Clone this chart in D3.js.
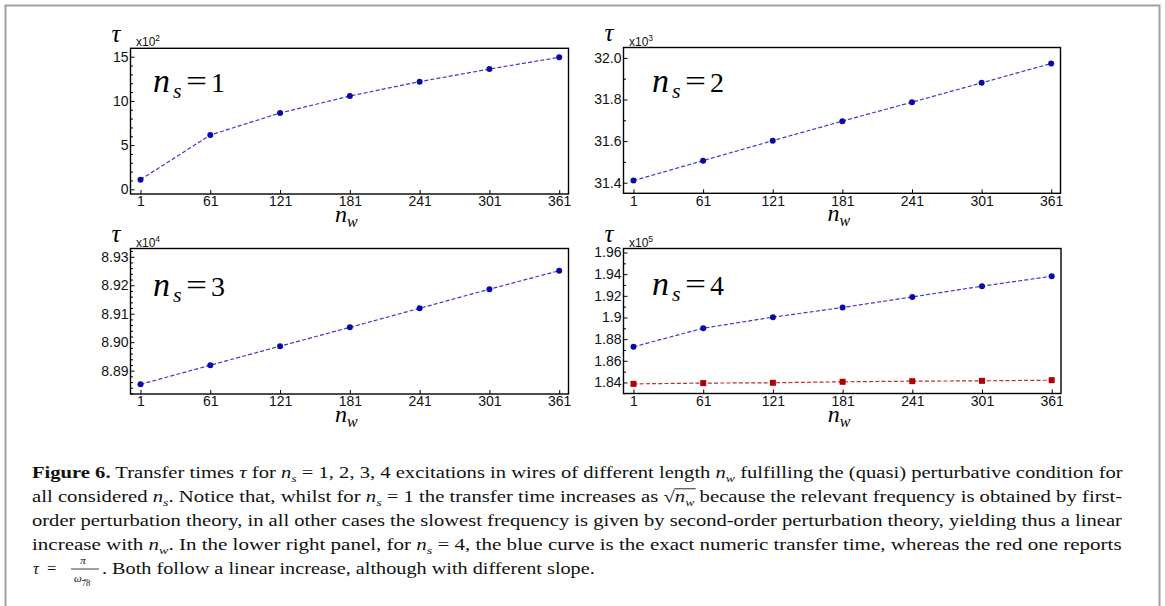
<!DOCTYPE html>
<html><head><meta charset="utf-8">
<script src="https://cdn.jsdelivr.net/npm/d3@7"></script>
<style>body{margin:0;background:#fff;} svg{display:block}</style>
</head><body>
<svg id="c" width="1165" height="606"></svg>
<script>
// ---------------- data ----------------
const nw = [1, 61, 121, 181, 241, 301, 361];
const xTickLabels = ["1", "61", "121", "181", "241", "301", "361"];

// n_s = 1  (×10^2)
const tau1 = [1.09, 6.14, 8.63, 10.55, 12.18, 13.60, 14.93];
const yTicks1 = [0, 5, 10, 15];
const yTickLabels1 = ["0", "5", "10", "15"];

// n_s = 2  (×10^3)
const tau2 = [31.41, 31.506, 31.602, 31.696, 31.787, 31.880, 31.973];
const yTicks2 = [31.4, 31.6, 31.8, 32.0];
const yTickLabels2 = ["31.4", "31.6", "31.8", "32.0"];

// n_s = 3  (×10^4)
const tau3 = [8.8852, 8.8919, 8.8986, 8.9052, 8.9119, 8.9186, 8.9251];
const yTicks3 = [8.89, 8.90, 8.91, 8.92, 8.93];
const yTickLabels3 = ["8.89", "8.90", "8.91", "8.92", "8.93"];

// n_s = 4  (×10^5): exact (blue) and pi/omega (red)
const tau4exact = [1.8729, 1.8901, 1.9003, 1.9092, 1.9190, 1.9289, 1.9381];
const tau4approx = [1.8387, 1.8394, 1.8397, 1.8406, 1.8412, 1.8415, 1.8421];
const yTicks4 = [1.84, 1.86, 1.88, 1.90, 1.92, 1.94, 1.96];
const yTickLabels4 = ["1.84", "1.86", "1.88", "1.9", "1.92", "1.94", "1.96"];

const nsLabels = ["1", "2", "3", "4"];
const exponents = ["2", "3", "4", "5"];

// ---------------- layout ----------------
const SERIF = "'Liberation Serif', 'Times New Roman', Times, serif";
const SANS = "'Liberation Sans', Arial, Helvetica, sans-serif";
const svg = d3.select("#c");
svg.append("rect").attr("x", 5.5).attr("y", 5.5).attr("width", 1154).attr("height", 640)
  .attr("fill", "none").attr("stroke", "#a0a0a0").attr("stroke-width", 2);

const BLUE_LINE = "#3a3ad0", BLUE_PT = "#0808a8", RED_LINE = "#c42a2a", RED_PT = "#b00000";

const panels = [
  { box: {x: 130.5, y: 48.3, w: 438, h: 145.7}, yDomain: [-0.53, 15.95], ticks: yTicks1, tickLabels: yTickLabels1, minor: 1,
    series: [{v: tau1, kind: "circle"}], label: {x: 153, y: 92} },
  { box: {x: 623.5, y: 47.5, w: 437, h: 145.8}, yDomain: [31.349, 32.05], ticks: yTicks2, tickLabels: yTickLabels2, minor: 0.1,
    series: [{v: tau2, kind: "circle"}], label: {x: 652, y: 92} },
  { box: {x: 130.5, y: 248.5, w: 438, h: 145.5}, yDomain: [8.8818, 8.9329], ticks: yTicks3, tickLabels: yTickLabels3, minor: 0.002,
    series: [{v: tau3, kind: "circle"}], label: {x: 153, y: 296} },
  { box: {x: 623.5, y: 248.5, w: 437.5, h: 145}, yDomain: [1.8298, 1.9637], ticks: yTicks4, tickLabels: yTickLabels4, minor: 0.01,
    series: [{v: tau4approx, kind: "square"}, {v: tau4exact, kind: "circle"}], label: {x: 652, y: 295} }
];

panels.forEach((p, pi) => {
  const b = p.box;
  const x = d3.scaleLinear().domain([-7.6, 369]).range([b.x, b.x + b.w]);
  const y = d3.scaleLinear().domain(p.yDomain).range([b.y + b.h, b.y]);
  const g = svg.append("g");

  // x axis (inward ticks)
  const xa = g.append("g").attr("transform", `translate(0,${b.y + b.h})`)
    .call(d3.axisBottom(x).tickValues(nw).tickFormat((d, i) => xTickLabels[i]).tickSizeInner(-4).tickSizeOuter(0).tickPadding(2.5));
  xa.select(".domain").remove();
  xa.selectAll("text").attr("font-family", SANS).attr("font-size", 14).attr("fill", "#111");
  xa.selectAll("line").attr("stroke", "#000");

  // y axis (major)
  const ya = g.append("g").attr("transform", `translate(${b.x},0)`)
    .call(d3.axisLeft(y).tickValues(p.ticks).tickFormat((d, i) => p.tickLabels[i]).tickSizeInner(-4).tickSizeOuter(0).tickPadding(2));
  ya.select(".domain").remove();
  ya.selectAll("text").attr("font-family", SANS).attr("font-size", 14).attr("fill", "#111");
  ya.selectAll("line").attr("stroke", "#000");

  // y axis minor ticks
  const d0 = Math.min(...p.yDomain), d1 = Math.max(...p.yDomain);
  const minorVals = d3.range(Math.ceil(d0 / p.minor - 1e-6), Math.floor(d1 / p.minor + 1e-6) + 1).map(k => +(k * p.minor).toFixed(6))
    .filter(v => !p.ticks.some(t => Math.abs(t - v) < p.minor * 1e-3));
  const ym = g.append("g").attr("transform", `translate(${b.x},0)`)
    .call(d3.axisLeft(y).tickValues(minorVals).tickFormat("").tickSizeInner(-2.5).tickSizeOuter(0));
  ym.select(".domain").remove();
  ym.selectAll("line").attr("stroke", "#000");

  // frame
  g.append("rect").attr("x", b.x).attr("y", b.y).attr("width", b.w).attr("height", b.h)
    .attr("fill", "none").attr("stroke", "#000").attr("stroke-width", 1.4);

  // series
  p.series.forEach(s => {
    const isSq = s.kind === "square";
    g.append("path").datum(s.v)
      .attr("d", d3.line().x((d, i) => x(nw[i])).y(d => y(d)))
      .attr("fill", "none").attr("stroke", isSq ? RED_LINE : BLUE_LINE).attr("stroke-width", 1.2)
      .attr("stroke-dasharray", "4,2.2");
    if (isSq) {
      g.selectAll(null).data(s.v).enter().append("rect")
        .attr("x", (d, i) => x(nw[i]) - 3).attr("y", d => y(d) - 3).attr("width", 6).attr("height", 6)
        .attr("fill", RED_PT);
    } else {
      g.selectAll(null).data(s.v).enter().append("circle")
        .attr("cx", (d, i) => x(nw[i])).attr("cy", d => y(d)).attr("r", 3)
        .attr("fill", BLUE_PT);
    }
  });

  // tau label and multiplier
  g.append("text").attr("x", b.x - 19).attr("y", b.y - 6.5)
    .attr("font-family", SERIF).attr("font-style", "italic").attr("font-size", 25).text("τ");
  const mt = g.append("text").attr("x", b.x + 5.5).attr("y", b.y - 2)
    .attr("font-family", SANS).attr("font-size", 12).attr("fill", "#111");
  mt.append("tspan").text("x10");
  mt.append("tspan").attr("dy", -5).attr("font-size", 8.5).text(exponents[pi]);

  // n_s = k label
  const L = p.label;
  g.append("text").attr("x", L.x).attr("y", L.y).attr("font-family", SERIF).attr("font-style", "italic").attr("font-size", 34).text("n");
  g.append("text").attr("x", L.x + 20).attr("y", L.y + 6).attr("font-family", SERIF).attr("font-style", "italic").attr("font-size", 22).text("s");
  g.append("text").attr("x", L.x + 33).attr("y", L.y - 1).attr("font-family", SERIF).attr("font-size", 30)
    .attr("textLength", 21).attr("lengthAdjust", "spacingAndGlyphs").text("=");
  g.append("text").attr("x", L.x + 58).attr("y", L.y).attr("font-family", SERIF).attr("font-size", 28).text(nsLabels[pi]);

  // x axis label n_w
  const cx = b.x + b.w / 2;
  const xl = g.append("text").attr("x", cx - 14.5).attr("y", b.y + b.h + 28)
    .attr("font-family", SERIF).attr("font-style", "italic").attr("font-size", 24);
  xl.append("tspan").text("n");
  xl.append("tspan").attr("dy", 5).attr("font-size", 16).text("w");
});

// ---------------- caption ----------------
function captionLine(x0, y0, targetW, segs) {
  const grp = svg.append("g");
  const t = grp.append("text").attr("x", 0).attr("y", 0)
    .attr("font-family", SERIF).attr("font-size", 16.5).attr("fill", "#111");
  let inSub = false, idx = 0;
  const marks = {};
  segs.forEach(s => {
    const [st, txt] = s;
    if (st === "mark") { marks[txt] = idx; return; }
    const ts = t.append("tspan").text(txt);
    if (st === "b") ts.attr("font-weight", "bold");
    if (st === "i") ts.attr("font-style", "italic");
    if (st === "sub") {
      ts.attr("font-style", "italic").attr("font-size", 11);
      if (!inSub) { ts.attr("dy", 4); inSub = true; }
    } else if (inSub) { ts.attr("dy", -4); inSub = false; }
    idx += txt.length;
  });
  const node = t.node();
  const w = node.getComputedTextLength();
  const k = targetW / w;
  grp.attr("transform", `translate(${x0},${y0}) scale(${k},1)`);
  if (marks.sqrtStart !== undefined) {
    const xs = node.getStartPositionOfChar(marks.sqrtStart).x;
    const xe = node.getEndPositionOfChar(marks.sqrtEnd - 1).x;
    grp.append("line").attr("x1", xs - 0.3).attr("x2", xe + 1).attr("y1", -13.2).attr("y2", -13.2)
      .attr("stroke", "#111").attr("stroke-width", 0.9);
  }
  return grp;
}

const X0 = 32, XR = 1123, TW = XR - X0;
captionLine(X0, 478, TW, [
  ["b", "Figure 6."], ["r", " Transfer times "], ["i", "τ"], ["r", " for "], ["i", "n"], ["sub", "s"],
  ["r", " = 1, 2, 3, 4 excitations in wires of different length "], ["i", "n"], ["sub", "w"],
  ["r", " fulfilling the (quasi) perturbative condition for"]
]);
captionLine(X0, 502, TW, [
  ["r", "all considered "], ["i", "n"], ["sub", "s"], ["r", ". Notice that, whilst for "], ["i", "n"], ["sub", "s"],
  ["r", " = 1 the transfer time increases as "], ["r", "√"], ["mark", "sqrtStart"], ["i", "n"], ["sub", "w"], ["mark", "sqrtEnd"],
  ["r", " because the relevant frequency is obtained by first-"]
]);
captionLine(X0, 526, TW, [
  ["r", "order perturbation theory, in all other cases the slowest frequency is given by second-order perturbation theory, yielding thus a linear"]
]);
captionLine(X0, 550, TW, [
  ["r", "increase with "], ["i", "n"], ["sub", "w"], ["r", ". In the lower right panel, for "], ["i", "n"], ["sub", "s"],
  ["r", " = 4, the blue curve is the exact numeric transfer time, whereas the red one reports"]
]);
// line 5: tau = pi / omega_78
const l5 = svg.append("g").attr("font-family", SERIF).attr("fill", "#111");
l5.append("text").attr("x", 33).attr("y", 574).attr("font-size", 16.5).attr("font-style", "italic").text("τ");
l5.append("text").attr("x", 47).attr("y", 574).attr("font-size", 16.5).text("=");
l5.append("text").attr("x", 83).attr("y", 564).attr("font-size", 11).attr("text-anchor", "middle").attr("font-style", "italic").text("π");
l5.append("line").attr("x1", 71).attr("x2", 99).attr("y1", 569).attr("y2", 569).attr("stroke", "#111").attr("stroke-width", 0.8);
const om = l5.append("text").attr("x", 74).attr("y", 582).attr("font-size", 11);
om.append("tspan").attr("font-style", "italic").text("ω");
om.append("tspan").attr("dy", 4).attr("font-size", 8.5).text("7\u03058");
captionLine(102, 574, 493, [["r", ". Both follow a linear increase, although with different slope."]]);
</script>
</body></html>
